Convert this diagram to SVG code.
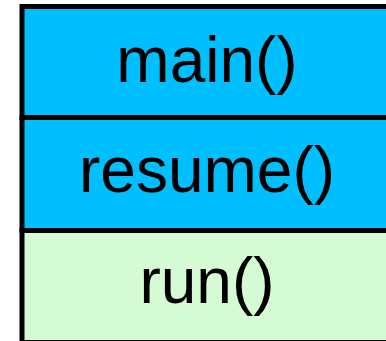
<svg xmlns="http://www.w3.org/2000/svg" width="386" height="341" viewBox="0 0 386 341">
<style>
.box{stroke:#000;stroke-width:5}
.blue{fill:#00BFFF}
.green{fill:#D5FBD5}
.t{font-family:"Liberation Sans",Arial,sans-serif;font-size:64px;fill:#000;text-anchor:middle}
</style>
<rect width="386" height="341" fill="#fff"/>
<g id="run">
<rect class="box green" x="22" y="230.5" width="370" height="112"/>
<text class="t" x="207" y="303">run()</text>
</g>
<g id="resume">
<rect class="box blue" x="22" y="117.5" width="370" height="113"/>
<text class="t" x="207" y="192">resume()</text>
</g>
<g id="main">
<rect class="box blue" x="22" y="6.5" width="370" height="111"/>
<text class="t" x="207" y="82">main()</text>
</g>
<g id="connectors"/>
</svg>
